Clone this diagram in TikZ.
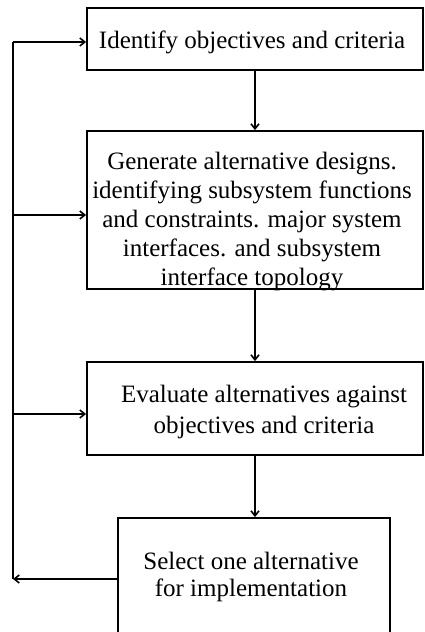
\documentclass[tikz,border=0pt]{standalone}
\usepackage{fontspec}
\setmainfont{Liberation Serif}
\usetikzlibrary{arrows.meta}
\begin{document}
\begin{tikzpicture}[x=1pt,y=1pt,
  box/.style={draw, line width=1.8pt, inner sep=0pt, minimum width=#1},
  box/.default=336pt,
  txt/.style={align=center, inner sep=0pt, font=\fontsize{25}{29}\selectfont},
  arr/.style={line width=1.5pt, -{Straight Barb[length=5pt,width=8pt,line width=1.6pt]}},
  wire/.style={line width=1.5pt}]
\useasboundingbox (0,0) rectangle (424,-632);
\clip (0,0) rectangle (424,-632);

% process boxes
\node[box, minimum height=62pt]  (b1) at (255,-39)    {};
\node[box, minimum height=158pt] (b2) at (255,-210)   {};
\node[box, minimum height=93pt]  (b3) at (255,-408.5) {};
\node[box=272pt, minimum height=137pt] (b4) at (254,-586.5) {};

% box texts
\node[txt] (t1) at (252,-42) {Identify objectives and criteria};
\node[txt] (t2) at (252,-222) {Generate alternative designs.\\
  identifying subsystem functions\\ and constraints. major system\\
  interfaces. and subsystem\\ interface topology};
\node[txt, font=\fontsize{25}{31}\selectfont] (t3) at (264,-411.5)
  {Evaluate alternatives against\\ objectives and criteria};
\node[txt, font=\fontsize{25}{27}\selectfont] (t4) at (251,-576.5)
  {Select one alternative\\ for implementation};

% main flow
\draw[arr] (b1.south) -- (b2.north);
\draw[arr] (b2.south) -- (b3.north);
\draw[arr] (b3.south) -- (b3.south |- b4.north);

% feedback loop on the left
\coordinate (lb) at (13,-579);
\coordinate (l1) at (13,-42);
\coordinate (l2) at (13,-215);
\coordinate (l3) at (13,-414);
\draw[arr] (b4.west |- lb) -- (lb);
\draw[wire] (lb) -- (l1);
\draw[arr] (l1) -- (l1 -| b1.west);
\draw[arr] (l2) -- (l2 -| b2.west);
\draw[arr] (l3) -- (l3 -| b3.west);
\end{tikzpicture}
\end{document}
